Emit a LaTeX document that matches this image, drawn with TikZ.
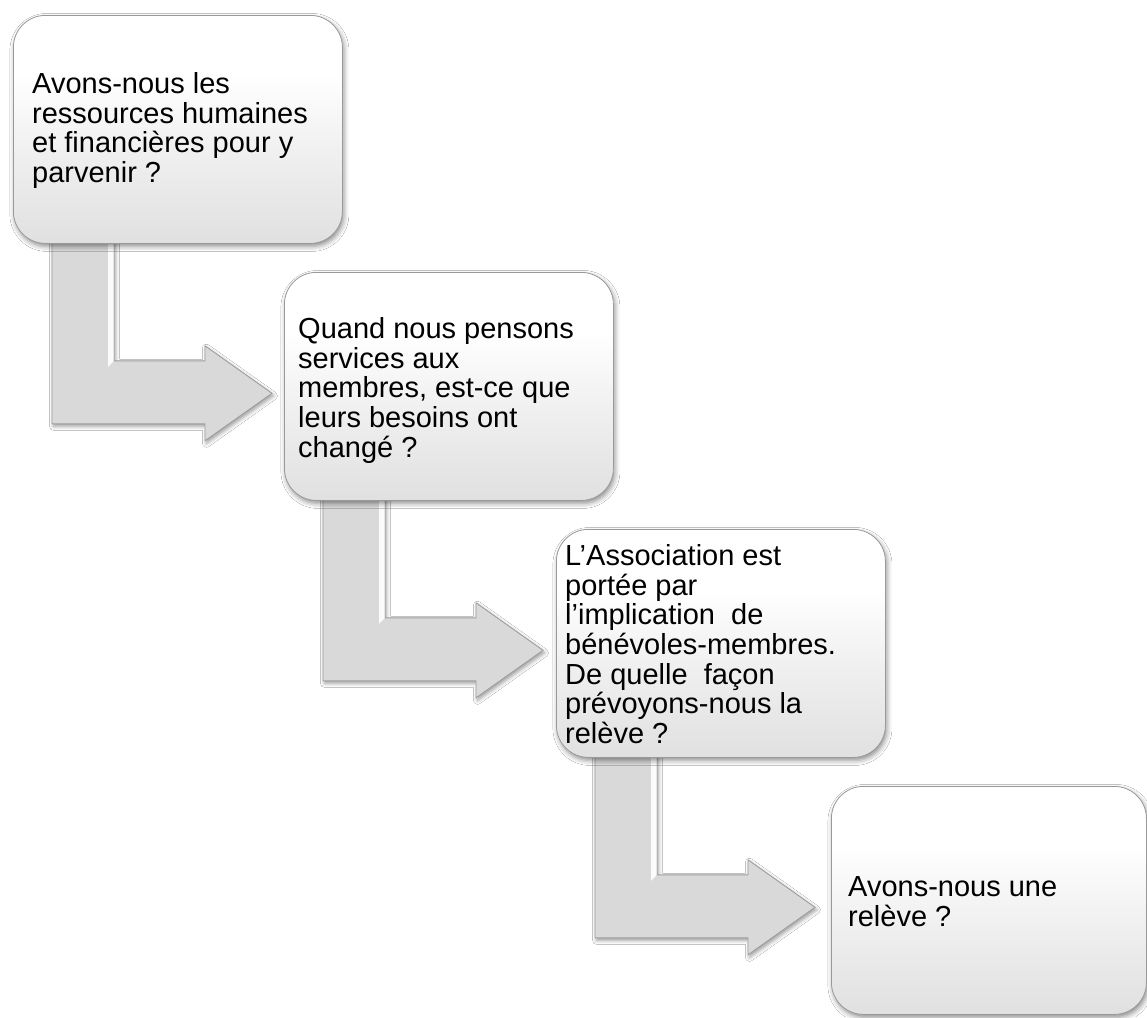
\documentclass[tikz,border=0pt]{standalone}
\usepackage{fontspec}
\setmainfont{Liberation Sans}
\usetikzlibrary{calc,shadows.blur,backgrounds}

% glossy fill of the question boxes: light grey at the bottom, white at the top
\pgfdeclareverticalshading{glossbox}{100bp}{color(0bp)=(black!19); color(12bp)=(black!16); color(45bp)=(black!6); color(62bp)=(white); color(100bp)=(white)}

\tikzset{
  stepbox/.style={draw=black!40, line width=0.8pt, rounded corners=32pt,
    shade, shading=glossbox, minimum height=228pt, minimum width=329pt,
    anchor=north west, inner sep=0pt,
    blur shadow={shadow xshift=1.5pt, shadow yshift=-3pt, shadow blur radius=5pt, shadow opacity=45}},
  boxtext/.style={anchor=north west, align=left, inner sep=0pt,
    font=\fontsize{29pt}{29.6pt}\selectfont},
  bendarrow/.style={fill=black!15, draw=black!38, line width=0.9pt, line join=miter,
    blur shadow={shadow xshift=1.5pt, shadow yshift=-2.5pt, shadow blur radius=4pt, shadow opacity=40}},
  bevel/.style={fill=white, opacity=0.9},
}

% bent arrow hanging below box #1 and turning right towards the next box
\newcommand\bentarrow[1]{%
  \begin{scope}[shift={(#1.south west)}]
    \draw[bendarrow] (39,-8) -- (39,180) -- (192,180) -- (192,197) -- (259,149.5)
      -- (192,102) -- (192,117) -- (101,117) -- (101,-8) -- cycle;
    \fill[bevel] (95,-8) -- (100.5,-8) -- (100.5,117.5) -- (95,123) -- cycle;
  \end{scope}}

\begin{document}
\begin{tikzpicture}[x=1pt, y=-1pt]
  \useasboundingbox (0,0) rectangle (1147,1017);

  % question boxes
  \node[stepbox] (b1) at (13,15) {};
  \node[stepbox] (b2) at (284,272) {};
  \node[stepbox] (b3) at (556,529) {};
  \node[stepbox, minimum width=315pt] (b4) at (831,786) {};

  % connectors, kept under the boxes
  \begin{scope}[on background layer]
    \fill[white] (0,0) rectangle (1147,1017);
    \bentarrow{b1}
    \bentarrow{b2}
    \bentarrow{b3}
  \end{scope}

  % texts
  \node[boxtext] (t1) at (32,72.5) {Avons-nous les\\ressources humaines\\et financières pour y\\parvenir ?};
  \node[boxtext] (t2) at (298,317.5) {Quand nous pensons\\services aux\\membres, est-ce que\\leurs besoins ont\\changé ?};
  \node[boxtext] (t3) at (565,544.5) {L’Association est\\portée par\\l’implication~ de\\bénévoles-membres.\\De quelle~ façon\\prévoyons-nous la\\relève ?};
  \node[boxtext] (t4) at (848,876.5) {Avons-nous une\\relève ?};
\end{tikzpicture}
\end{document}
